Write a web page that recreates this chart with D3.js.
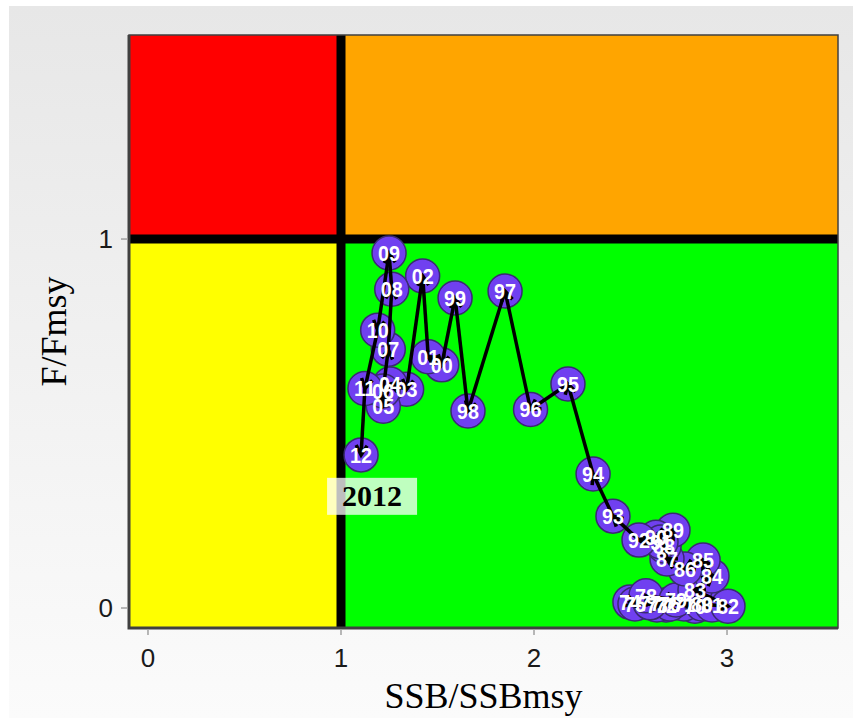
<!DOCTYPE html>
<html>
<head>
<meta charset="utf-8">
<script src="https://cdn.jsdelivr.net/npm/d3@7/dist/d3.min.js"></script>
<style>
  html, body { margin: 0; padding: 0; background: #fff; }
  svg { display: block; }
</style>
</head>
<body>
<svg id="chart" width="853" height="718"></svg>
<script>
// year labels (1970 .. 2012)
const years = ['70','71','72','73','74','75','76','77','78','79',
               '80','81','82','83','84','85','86','87','88','89',
               '90','91','92','93','94','95','96','97','98','99',
               '00','01','02','03','04','05','06','07','08','09',
               '10','11','12'];
// SSB/SSBmsy
const ssb = [2.834, 2.777, 2.684, 2.637, 2.497, 2.523, 2.705, 2.601, 2.580, 2.736,
             2.870, 2.922, 3.005, 2.834, 2.922, 2.876, 2.782, 2.689, 2.674, 2.720,
             2.632, 2.658, 2.544, 2.409, 2.306, 2.176, 1.982, 1.850, 1.658, 1.591,
             1.522, 1.452, 1.423, 1.340, 1.254, 1.219, 1.218, 1.245, 1.263, 1.249,
             1.190, 1.124, 1.104];
// F/Fmsy
const fval = [0.005, 0.011, 0.008, 0.008, 0.016, 0.011, 0.011, 0.014, 0.033, 0.022,
              0.011, 0.008, 0.005, 0.049, 0.087, 0.130, 0.106, 0.133, 0.168, 0.211,
              0.192, 0.179, 0.184, 0.249, 0.363, 0.607, 0.538, 0.859, 0.534, 0.840,
              0.659, 0.681, 0.900, 0.593, 0.607, 0.547, 0.588, 0.701, 0.864, 0.962,
              0.753, 0.595, 0.415];
const xTicks = [0, 1, 2, 3];
const yTicks = [0, 1];
const lastYear = '2012';

const svg = d3.select('#chart');

// panel background gradient
const defs = svg.append('defs');
const grad = defs.append('linearGradient').attr('id', 'bg')
    .attr('x1', 0).attr('y1', 0).attr('x2', 0).attr('y2', 1);
grad.append('stop').attr('offset', '0%').attr('stop-color', '#e7e7e7');
grad.append('stop').attr('offset', '100%').attr('stop-color', '#fbfbfb');
svg.append('rect').attr('x', 9).attr('y', 6).attr('width', 844).attr('height', 712)
    .attr('fill', 'url(#bg)');

const plot = { left: 129, right: 838, top: 35, bottom: 628 };
const x = d3.scaleLinear().domain([-0.0984, 3.575]).range([plot.left, plot.right]);
const y = d3.scaleLinear().domain([-0.0542, 1.553]).range([plot.bottom, plot.top]);

// Kobe quadrants
const quads = [
    { x0: x.domain()[0], x1: 1, y0: 1, y1: y.domain()[1], c: '#ff0000' },
    { x0: 1, x1: x.domain()[1], y0: 1, y1: y.domain()[1], c: '#ffa500' },
    { x0: x.domain()[0], x1: 1, y0: y.domain()[0], y1: 1, c: '#ffff00' },
    { x0: 1, x1: x.domain()[1], y0: y.domain()[0], y1: 1, c: '#00ff00' }
];
svg.append('g').selectAll('rect').data(quads).enter().append('rect')
    .attr('x', d => x(d.x0)).attr('y', d => y(d.y1))
    .attr('width', d => x(d.x1) - x(d.x0)).attr('height', d => y(d.y0) - y(d.y1))
    .attr('fill', d => d.c);

// reference lines at 1
svg.append('line').attr('x1', x(1)).attr('x2', x(1)).attr('y1', plot.top).attr('y2', plot.bottom)
    .attr('stroke', '#000').attr('stroke-width', 9);
svg.append('line').attr('x1', plot.left).attr('x2', plot.right).attr('y1', y(1)).attr('y2', y(1))
    .attr('stroke', '#000').attr('stroke-width', 9);

// border
svg.append('rect').attr('x', plot.left).attr('y', plot.top)
    .attr('width', plot.right - plot.left).attr('height', plot.bottom - plot.top)
    .attr('fill', 'none').attr('stroke', '#404040').attr('stroke-width', 1.5);
svg.append('path')
    .attr('d', `M${plot.left},${plot.top}V${plot.bottom}H${plot.right}`)
    .attr('fill', 'none').attr('stroke', '#404040').attr('stroke-width', 3);

const pts = years.map((yr, i) => ({ yr, x: ssb[i], y: fval[i] }));

// points
svg.append('g').selectAll('circle').data(pts).enter().append('circle')
    .attr('cx', d => x(d.x)).attr('cy', d => y(d.y)).attr('r', 17)
    .attr('fill', '#7040f0').attr('stroke', '#3a2a70').attr('stroke-width', 1.5);

// arrows between consecutive years
const segs = d3.pairs(pts);
const ag = svg.append('g').attr('stroke', '#000').attr('stroke-width', 3.5)
    .attr('fill', 'none').attr('stroke-linecap', 'butt');
segs.forEach(([a, b]) => {
    const x1 = x(a.x), y1 = y(a.y), x2 = x(b.x), y2 = y(b.y);
    ag.append('line').attr('x1', x1).attr('y1', y1).attr('x2', x2).attr('y2', y2);
    const ang = Math.atan2(y2 - y1, x2 - x1);
    const L = 11, w = Math.PI / 6;
    ag.append('path').attr('d',
        `M${x2 - L * Math.cos(ang - w)},${y2 - L * Math.sin(ang - w)}L${x2},${y2}` +
        `L${x2 - L * Math.cos(ang + w)},${y2 - L * Math.sin(ang + w)}`);
});

// year labels
svg.append('g').selectAll('text').data(pts).enter().append('text')
    .attr('x', d => x(d.x)).attr('y', d => y(d.y))
    .attr('dy', '0.36em').attr('text-anchor', 'middle')
    .attr('font-family', '"Liberation Sans", Arial, sans-serif')
    .attr('font-weight', 'bold').attr('font-size', 22).attr('fill', '#fff')
    .attr('textLength', 22).attr('lengthAdjust', 'spacingAndGlyphs')
    .text(d => d.yr);

// last year annotation
const lx = x(1.161), ly = y(0.304);
svg.append('rect').attr('x', lx - 45).attr('y', ly - 18).attr('width', 90).attr('height', 37)
    .attr('fill', '#fff').attr('fill-opacity', 0.75);
svg.append('text').attr('x', lx).attr('y', ly).attr('dy', '0.34em').attr('text-anchor', 'middle')
    .attr('font-family', '"Liberation Serif", "Times New Roman", serif')
    .attr('font-weight', 'bold').attr('font-size', 30).attr('fill', '#000')
    .text(lastYear);

// axes
const tickFont = '"Liberation Sans", Arial, sans-serif';
const xg = svg.append('g');
xg.selectAll('line').data(xTicks).enter().append('line')
    .attr('x1', d => x(d)).attr('x2', d => x(d)).attr('y1', plot.bottom + 1).attr('y2', plot.bottom + 7)
    .attr('stroke', '#a0a0a0').attr('stroke-width', 1.5);
xg.selectAll('text').data(xTicks).enter().append('text')
    .attr('x', d => x(d)).attr('y', 667).attr('text-anchor', 'middle')
    .attr('font-family', tickFont).attr('font-size', 26).attr('fill', '#1a1a1a')
    .text(d => d);
const yg = svg.append('g');
yg.selectAll('line').data(yTicks).enter().append('line')
    .attr('x1', plot.left - 8).attr('x2', plot.left - 1).attr('y1', d => y(d)).attr('y2', d => y(d))
    .attr('stroke', '#a0a0a0').attr('stroke-width', 1.5);
yg.selectAll('text').data(yTicks).enter().append('text')
    .attr('x', plot.left - 16).attr('y', d => y(d)).attr('dy', '0.36em').attr('text-anchor', 'end')
    .attr('font-family', tickFont).attr('font-size', 26).attr('fill', '#1a1a1a')
    .text(d => d);

// axis titles
svg.append('text').attr('x', (plot.left + plot.right) / 2).attr('y', 708).attr('text-anchor', 'middle')
    .attr('font-family', '"Liberation Serif", "Times New Roman", serif').attr('font-size', 36)
    .attr('fill', '#000').text('SSB/SSBmsy');
svg.append('text')
    .attr('transform', `translate(66,${(plot.top + plot.bottom) / 2}) rotate(-90)`)
    .attr('text-anchor', 'middle')
    .attr('font-family', '"Liberation Serif", "Times New Roman", serif').attr('font-size', 36)
    .attr('fill', '#000').text('F/Fmsy');
</script>
</body>
</html>
